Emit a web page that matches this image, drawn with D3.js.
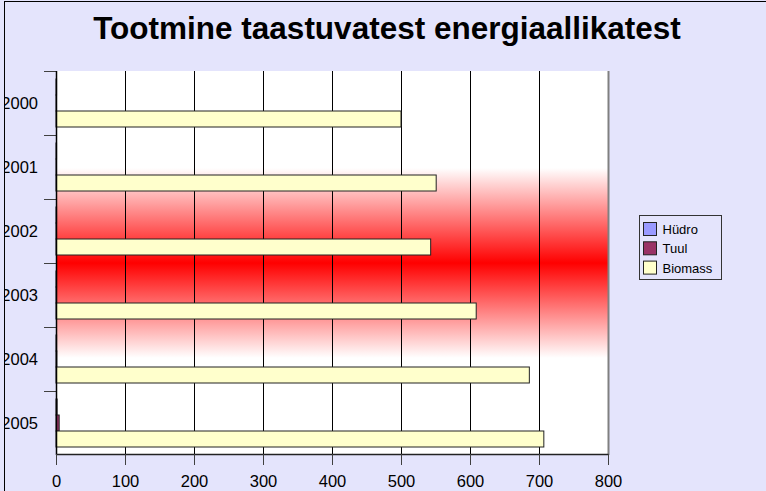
<!DOCTYPE html>
<html>
<head>
<meta charset="utf-8">
<script src="https://cdn.jsdelivr.net/npm/d3@7"></script>
<style>
  body { margin: 0; background: #e4e4fc; }
  svg { display: block; font-family: "Liberation Sans", Arial, sans-serif; }
</style>
</head>
<body>
<script>
// Tootmine taastuvatest energiaallikatest
var years = ['2000', '2001', '2002', '2003', '2004', '2005'];
var seriesNames = ['Hüdro', 'Tuul', 'Biomass'];
var hydro = [0.8, 0.8, 0.8, 0.8, 0.9, 1.6];
var wind = [0.2, 0.4, 0.6, 0.8, 1.2, 4.6];
var biomass = [500, 551, 543, 609, 686, 707];
var xTicks = [0, 100, 200, 300, 400, 500, 600, 700, 800];
var colors = ['#9999ff', '#993366', '#ffffcc'];

var width = 766, height = 491;
var plotLeft = 56, plotRight = 608, plotTop = 71, plotBottom = 455;

var rows = years.map(function(y, i){
    return {year: y, values: [hydro[i], wind[i], biomass[i]]};
});

var svg = d3.select('body').append('svg')
    .attr('width', width)
    .attr('height', height);

svg.append('rect').attr('width', width).attr('height', height).attr('fill', '#e4e4fc');

var defs = svg.append('defs');
defs.append('clipPath').attr('id', 'frame')
    .append('rect').attr('x', 5).attr('y', 2).attr('width', width).attr('height', height);
var grad = defs.append('linearGradient').attr('id', 'band')
    .attr('gradientUnits', 'userSpaceOnUse')
    .attr('x1', 0).attr('x2', 0).attr('y1', 168).attr('y2', 358);
grad.append('stop').attr('offset', '0%').attr('stop-color', '#ffffff');
grad.append('stop').attr('offset', '50%').attr('stop-color', '#ff0000');
grad.append('stop').attr('offset', '100%').attr('stop-color', '#ffffff');

var g = svg.append('g').attr('clip-path', 'url(#frame)');

var x = d3.scaleLinear().domain([0, 800]).range([plotLeft, plotRight]);
var y = d3.scaleBand().domain(years).range([plotTop, plotBottom]);
var suby = d3.scaleBand().domain(seriesNames).range([8, 56]);

// plot area
g.append('rect').attr('x', plotLeft).attr('y', plotTop)
    .attr('width', plotRight - plotLeft).attr('height', plotBottom - plotTop).attr('fill', '#fff');
g.append('rect').attr('x', plotLeft).attr('y', 168)
    .attr('width', plotRight - plotLeft).attr('height', 190).attr('fill', 'url(#band)');

// gridlines
g.selectAll('.grid').data(xTicks.slice(1, -1)).enter().append('line')
    .attr('x1', d => x(d)).attr('x2', d => x(d))
    .attr('y1', plotTop).attr('y2', plotBottom)
    .attr('stroke', '#000').attr('stroke-width', 1)
    .attr('shape-rendering', 'crispEdges');
g.append('line').attr('x1', plotRight + 0.5).attr('x2', plotRight + 0.5)
    .attr('y1', plotTop).attr('y2', plotBottom)
    .attr('stroke', '#808080').attr('stroke-width', 2);

// bars
var cat = g.selectAll('.cat').data(rows).enter().append('g')
    .attr('transform', d => 'translate(0,' + y(d.year) + ')');
cat.selectAll('rect')
    .data(d => d.values.map((v, i) => ({name: seriesNames[i], value: v, i: i})))
    .enter().append('rect')
    .attr('x', x(0))
    .attr('y', d => suby(d.name))
    .attr('width', d => x(d.value) - x(0))
    .attr('height', suby.bandwidth())
    .attr('fill', d => colors[d.i])
    .attr('stroke', '#222')
    .attr('stroke-width', 1);

// y axis
var yAxis = g.append('g').attr('transform', 'translate(' + plotLeft + ',0)')
    .call(d3.axisLeft(y).tickSize(0).tickPadding(18));
yAxis.select('.domain').remove();
yAxis.selectAll('text').attr('font-size', 16.5).attr('fill', '#000').attr('dy', '0.38em')
    .attr('font-family', '"Liberation Sans", Arial, sans-serif');
g.selectAll('.ytick').data(years).enter().append('line')
    .attr('x1', plotLeft - 12).attr('x2', plotLeft)
    .attr('y1', d => y(d) + 0.5).attr('y2', d => y(d) + 0.5)
    .attr('stroke', '#404040');
g.append('line').attr('x1', plotLeft + 0.5).attr('x2', plotLeft + 0.5)
    .attr('y1', plotTop).attr('y2', plotBottom)
    .attr('stroke', '#000').attr('stroke-width', 1.5);

// x axis
var xAxis = g.append('g').attr('transform', 'translate(0,' + (plotBottom - 1) + ')')
    .call(d3.axisBottom(x).tickValues(xTicks).tickSize(11).tickPadding(10).tickSizeOuter(0));
xAxis.select('.domain').attr('stroke', '#222').attr('stroke-width', 1.5);
xAxis.selectAll('.tick line').attr('stroke', '#404040');
xAxis.selectAll('text').attr('font-size', 16.5).attr('fill', '#000')
    .attr('font-family', '"Liberation Sans", Arial, sans-serif');

// legend
var legend = g.append('g').attr('transform', 'translate(639,215)');
legend.append('rect').attr('x', 0.5).attr('y', 0.5).attr('width', 82).attr('height', 64)
    .attr('fill', '#e4e4fc').attr('stroke', '#333');
var item = legend.selectAll('.item').data(seriesNames).enter().append('g')
    .attr('transform', (d, i) => 'translate(4.5,' + (7.5 + i * 19.3) + ')');
item.append('rect').attr('width', 13).attr('height', 13)
    .attr('fill', (d, i) => colors[i]).attr('stroke', '#222');
item.append('text').attr('x', 19).attr('y', 11.5)
    .attr('font-size', 13).text(d => d);

// title
g.append('text').attr('x', 387).attr('y', 39)
    .attr('text-anchor', 'middle')
    .attr('font-size', 31.5).attr('font-weight', 'bold')
    .text('Tootmine taastuvatest energiaallikatest');

// frame
svg.append('line').attr('x1', 4.5).attr('x2', 4.5).attr('y1', 1).attr('y2', height).attr('stroke', '#000');
svg.append('line').attr('x1', 4).attr('x2', width).attr('y1', 1.5).attr('y2', 1.5).attr('stroke', '#000');
</script>
</body>
</html>
